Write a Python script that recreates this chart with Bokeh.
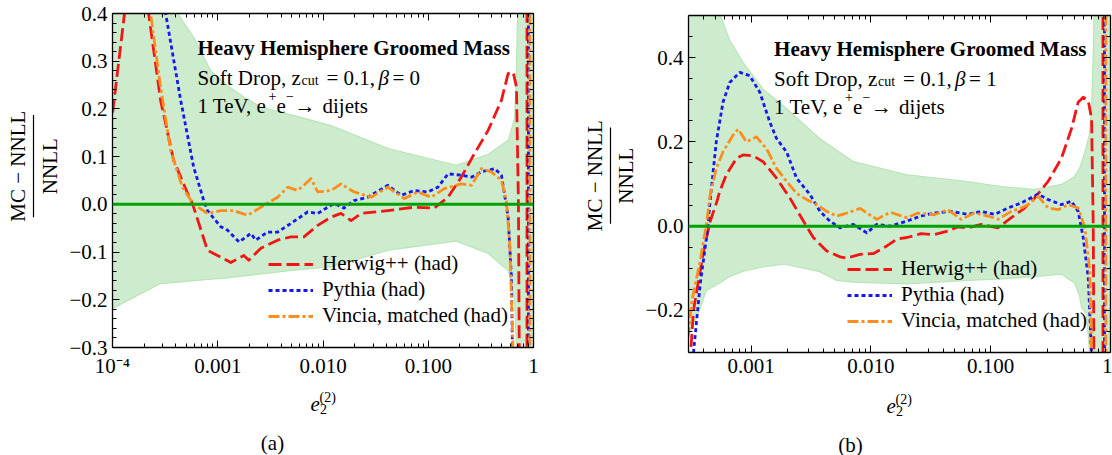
import numpy as np
from bokeh.core.properties import value
from bokeh.embed import file_html
from bokeh.layouts import column, row
from bokeh.models import (CustomJSTickFormatter, FixedTicker, Legend, LegendItem,
                          LinearAxis, LogAxis, Range1d, Span)
from bokeh.plotting import figure
from bokeh.resources import INLINE

SERIF = "Liberation Serif"
INK = "#000000"
RED = "#f01616"
BLUE = "#1717f2"
ORANGE = "#ff8d1e"
ZERO_GREEN = "#00a000"
BAND_FILL = "#cdeccd"
BAND_EDGE = "#b9e4b9"

SERIES_LABELS = ["Herwig++ (had)", "Pythia (had)", "Vincia, matched (had)"]

# ---------------- (a) Soft Drop, z_cut = 0.1, beta = 0 ----------------
# x values are stored as log10(e2), y values as (MC - NNLL)/NNLL
herwig_a_log_e2 = [-4.06, -4.0, -3.886, -3.848, -3.771, -3.686, -3.657, -3.543, -3.419, -3.286,
                   -3.238, -3.098, -3.003, -2.876, -2.752, -2.705, -2.59, -2.431, -2.305, -2.181,
                   -2.05, -1.924, -1.829, -1.733, -1.638, -1.384, -1.133, -0.943, -0.812, -0.686,
                   -0.562, -0.431, -0.305, -0.241, -0.193, -0.162, -0.143, -0.133, -0.062, -0.062]
herwig_a = [0.08, 0.19, 0.40, 0.50, 0.62, 0.50, 0.40, 0.218, 0.092, 0.023,
            0.0, -0.096, -0.107, -0.122, -0.107, -0.117, -0.092, -0.075, -0.068, -0.068,
            -0.044, -0.027, -0.019, -0.034, -0.019, -0.013, -0.006, -0.008, 0.015, 0.057,
            0.106, 0.155, 0.218, 0.274, 0.277, 0.246, 0.0, -0.40, -0.40, 0.60]

pythia_a_log_e2 = [-4.06, -3.7, -3.56, -3.495, -3.352, -3.229, -3.133, -3.098, -2.971, -2.908,
                   -2.797, -2.686, -2.638, -2.527, -2.431, -2.305, -2.146, -2.05, -1.955, -1.895,
                   -1.8, -1.705, -1.574, -1.384, -1.257, -1.133, -1.003, -0.908, -0.812, -0.686,
                   -0.59, -0.495, -0.368, -0.305, -0.276, -0.241, -0.21, -0.194, -0.048, -0.048]
pythia_a = [0.9, 0.7, 0.5, 0.40, 0.218, 0.078, 0.008, -0.013, -0.047, -0.054,
            -0.079, -0.061, -0.075, -0.058, -0.058, -0.04, -0.016, -0.019, -0.006, 0.002,
            -0.008, 0.008, 0.015, 0.04, 0.019, 0.029, 0.026, 0.036, 0.064, 0.061,
            0.057, 0.068, 0.075, 0.061, 0.022, -0.027, -0.152, -0.40, -0.40, 0.60]

vincia_a_log_e2 = [-4.06, -3.75, -3.638, -3.543, -3.448, -3.336, -3.229, -3.098, -2.971, -2.848,
                   -2.717, -2.59, -2.431, -2.336, -2.241, -2.181, -2.114, -2.05, -1.924, -1.829,
                   -1.705, -1.543, -1.384, -1.229, -1.098, -0.971, -0.848, -0.686, -0.59, -0.495,
                   -0.4, -0.305, -0.257, -0.226, -0.181, -0.034, -0.034]
vincia_a = [0.8, 0.6, 0.40, 0.246, 0.113, 0.036, 0.0, -0.019, -0.013, -0.013,
            -0.023, -0.006, 0.015, 0.036, 0.029, 0.04, 0.054, 0.026, 0.029, 0.043,
            0.026, 0.015, 0.036, 0.012, 0.026, 0.015, 0.033, 0.043, 0.04, 0.075,
            0.068, 0.05, 0.008, -0.082, -0.40, -0.40, 0.60]

band_a_log_e2 = [-4.06, -3.543, -3.381, -3.229, -3.067, -2.908, -2.752, -2.59, -2.276, -1.924,
                 -1.38, -0.733, -0.43, -0.238, -0.18, -0.165, -0.145, -0.12, 0.02]
band_a_hi = [0.80, 0.52, 0.40, 0.35, 0.28, 0.249, 0.225, 0.204, 0.186, 0.165,
             0.117, 0.082, 0.105, 0.135, 0.18, 0.26, 0.45, 0.80, 0.80]
band_a_lo = [-0.225, -0.166, -0.163, -0.160, -0.157, -0.154, -0.150, -0.146, -0.138, -0.131,
             -0.096, -0.077, -0.103, -0.14, -0.20, -0.28, -0.45, -0.80, -0.80]

# ---------------- (b) Soft Drop, z_cut = 0.1, beta = 1 ----------------
herwig_b_log_e2 = [-3.53, -3.505, -3.481, -3.397, -3.341, -3.285, -3.263, -3.207, -3.123, -3.067,
                   -2.983, -2.9, -2.788, -2.677, -2.564, -2.481, -2.369, -2.258, -2.202, -2.09,
                   -1.978, -1.867, -1.783, -1.699, -1.582, -1.473, -1.358, -1.275, -1.191, -1.079,
                   -0.94, -0.828, -0.717, -0.633, -0.521, -0.41, -0.326, -0.27, -0.228, -0.186,
                   -0.158, -0.144, -0.137, -0.063, -0.063]
herwig_b = [-0.5, -0.3, -0.2, -0.059, 0.012, 0.059, 0.082, 0.122, 0.161, 0.169,
            0.167, 0.153, 0.114, 0.067, 0.012, -0.027, -0.059, -0.073, -0.076, -0.067,
            -0.065, -0.047, -0.031, -0.027, -0.018, -0.02, -0.012, -0.002, -0.004, 0.004,
            -0.004, 0.02, 0.043, 0.067, 0.106, 0.161, 0.231, 0.294, 0.306, 0.298,
            0.255, 0.0, -0.40, -0.40, 0.60]

pythia_b_log_e2 = [-3.53, -3.481, -3.425, -3.369, -3.342, -3.317, -3.291, -3.235, -3.179, -3.095,
                   -3.012, -2.928, -2.844, -2.788, -2.704, -2.621, -2.509, -2.425, -2.342, -2.258,
                   -2.146, -2.034, -1.951, -1.839, -1.699, -1.582, -1.473, -1.331, -1.191, -1.079,
                   -0.968, -0.856, -0.745, -0.605, -0.521, -0.41, -0.326, -0.27, -0.228, -0.186,
                   -0.144, -0.05, -0.05]
pythia_b = [-0.5, -0.3, -0.137, -0.02, 0.06, 0.13, 0.2, 0.294, 0.341, 0.365,
            0.357, 0.318, 0.247, 0.208, 0.176, 0.114, 0.075, 0.035, 0.012, -0.004,
            0.004, -0.016, 0.004, 0.0, 0.012, 0.024, 0.031, 0.035, 0.028, 0.035,
            0.028, 0.043, 0.055, 0.076, 0.063, 0.051, 0.059, 0.035, -0.027, -0.122,
            -0.40, -0.40, 0.60]

vincia_b_log_e2 = [-3.56, -3.494, -3.425, -3.369, -3.347, -3.291, -3.235, -3.151, -3.109, -3.039,
                   -2.956, -2.872, -2.788, -2.704, -2.621, -2.537, -2.453, -2.369, -2.286, -2.202,
                   -2.09, -1.951, -1.839, -1.699, -1.61, -1.471, -1.358, -1.247, -1.136, -1.023,
                   -0.94, -0.828, -0.745, -0.688, -0.605, -0.521, -0.437, -0.353, -0.27, -0.214,
                   -0.173, -0.15, -0.038, -0.038]
vincia_b = [-0.36, -0.176, -0.082, 0.012, 0.067, 0.137, 0.176, 0.216, 0.23, 0.2,
            0.212, 0.184, 0.137, 0.106, 0.078, 0.063, 0.051, 0.035, 0.024, 0.031,
            0.042, 0.016, 0.033, 0.02, 0.031, 0.027, 0.039, 0.016, 0.031, 0.024,
            0.016, 0.035, 0.043, 0.051, 0.071, 0.043, 0.039, 0.051, 0.043, -0.004,
            -0.106, -0.40, -0.40, 0.60]

band_b_log_e2 = [-3.56, -3.452, -3.374, -3.263, -3.182, -3.067, -2.9, -2.729, -2.428, -2.286,
                 -2.146, -1.699, -1.191, -0.912, -0.636, -0.41, -0.3, -0.259, -0.242, -0.2,
                 -0.175, -0.158, -0.14, -0.125, 0.02]
band_b_hi = [0.80, 0.70, 0.60, 0.506, 0.443, 0.388, 0.325, 0.285, 0.208, 0.18,
             0.153, 0.122, 0.106, 0.094, 0.087, 0.099, 0.118, 0.137, 0.15, 0.19,
             0.22, 0.28, 0.45, 0.80, 0.80]
band_b_lo = [-0.28, -0.216, -0.153, -0.135, -0.12, -0.107, -0.097, -0.09, -0.108, -0.129,
             -0.133, -0.137, -0.129, -0.125, -0.12, -0.114, -0.135, -0.165, -0.192, -0.21,
             -0.30, -0.45, -0.80, -0.80, -0.80]

# axis ticks and their labels
x_ticks_a = [1e-4, 1e-3, 1e-2, 1e-1, 1.0]
x_labels_a = ["10⁻⁴", "0.001", "0.010", "0.100", "1"]
x_ticks_b = [1e-3, 1e-2, 1e-1, 1.0]
x_labels_b = ["0.001", "0.010", "0.100", "1"]
y_ticks_a = [-0.3, -0.2, -0.1, 0.0, 0.1, 0.2, 0.3, 0.4]
y_labels_a = ["−0.3", "−0.2", "−0.1", "0.0", "0.1", "0.2", "0.3", "0.4"]
y_ticks_b = [-0.2, 0.0, 0.2, 0.4]
y_labels_b = ["−0.2", "0.0", "0.2", "0.4"]

# plot frames in page pixels (left, right, top, bottom) and their data extents
FRAME_A = dict(left=112, right=533, top=13, bottom=347, lx=(-4.0, 0.0), y=(-0.3, 0.4))
FRAME_B = dict(left=688, right=1110, top=15, bottom=352, lx=(float(np.log10(3e-4)), 0.0), y=(-0.3, 0.5))
MAIN_H = 385
PAGE_H = 455


def page_to_data(fr, px, py):
    lx0, lx1 = fr["lx"]
    y0, y1 = fr["y"]
    lx = lx0 + (px - fr["left"]) / (fr["right"] - fr["left"]) * (lx1 - lx0)
    yv = y1 - (py - fr["top"]) / (fr["bottom"] - fr["top"]) * (y1 - y0)
    return 10 ** lx, yv


def log_minor(d0, d1, lo):
    return [m * 10.0 ** d for d in range(d0, d1) for m in range(2, 10) if m * 10.0 ** d >= lo]


def lookup_formatter(vals, labels):
    return CustomJSTickFormatter(args=dict(vals=vals, labels=labels), code="""
        for (let i = 0; i < vals.length; i++) {
            if (Math.abs(vals[i] - tick) <= 1e-6 * Math.abs(vals[i]) + 1e-12) { return labels[i]; }
        }
        return "";
    """)


def style_axis(ax, ticks, minor, labels=None, standoff=5):
    ax.ticker = FixedTicker(ticks=ticks, minor_ticks=minor)
    ax.axis_line_color = INK
    ax.axis_line_width = 1.3
    ax.major_tick_in = 7
    ax.major_tick_out = 0
    ax.minor_tick_in = 4
    ax.minor_tick_out = 0
    ax.major_tick_line_color = INK
    ax.minor_tick_line_color = INK
    ax.major_tick_line_width = 1
    ax.minor_tick_line_width = 1
    if labels is None:
        ax.formatter = CustomJSTickFormatter(code="return '';")
        ax.major_label_text_font_size = "0px"
        ax.major_label_standoff = 0
    else:
        ax.formatter = lookup_formatter(ticks, labels)
        ax.major_label_text_font = SERIF
        ax.major_label_text_font_size = "21px"
        ax.major_label_text_color = INK
        ax.major_label_standoff = standoff


def put_text(fig, x, y, text, size="21px", style="normal", align="left",
             baseline="alphabetic", angle=0.0):
    fig.text(x=[x], y=[y], text=[text], text_font=value(SERIF), text_font_size=size,
             text_font_style=style, text_align=align, text_baseline=baseline,
             angle=angle, text_color=INK)


def helper_fig(width, height, x0, x1, y_top, y_bottom):
    f = figure(width=width, height=height, x_range=Range1d(x0, x1),
               y_range=Range1d(y_bottom, y_top), min_border=0, toolbar_location=None,
               output_backend="svg", x_axis_location=None, y_axis_location=None,
               outline_line_color=None, background_fill_color="white",
               border_fill_color="white")
    f.grid.visible = False
    return f


def panel(fr, width, borders, curves, band, x_ticks, x_labels, x_minor,
          y_ticks, y_labels, y_minor, beta, title_x, title_base, legend_loc):
    bl, br, bt, bb = borders
    p = figure(width=width, height=MAIN_H, x_axis_type="log",
               x_range=Range1d(10 ** fr["lx"][0], 10 ** fr["lx"][1]),
               y_range=Range1d(*fr["y"]),
               min_border_left=bl, min_border_right=br, min_border_top=bt, min_border_bottom=bb,
               toolbar_location=None, output_backend="svg", outline_line_color=None,
               background_fill_color="white", border_fill_color="white")
    p.grid.visible = False

    style_axis(p.xaxis[0], x_ticks, x_minor, x_labels, standoff=6)
    style_axis(p.yaxis[0], y_ticks, y_minor, y_labels, standoff=5)
    top = LogAxis()
    style_axis(top, x_ticks, x_minor)
    p.add_layout(top, "above")
    right = LinearAxis()
    style_axis(right, y_ticks, y_minor)
    p.add_layout(right, "right")

    # NNLL uncertainty band
    b_lx, b_hi, b_lo = band
    bx = 10 ** np.array(b_lx)
    p.varea(x=bx, y1=b_lo, y2=b_hi, fill_color=BAND_FILL)
    p.line(bx, b_hi, line_color=BAND_EDGE, line_width=1.2)
    p.line(bx, b_lo, line_color=BAND_EDGE, line_width=1.2)

    # Monte Carlo ratio curves
    styles = [(RED, "13 5"), (BLUE, "4 3"), (ORANGE, "11 3 3 3")]
    renderers = []
    for (lx, vals), (color, dash) in zip(curves, styles):
        r = p.line(10 ** np.array(lx), vals, line_color=color, line_width=2.8,
                   line_dash=dash, line_join="round")
        renderers.append(r)

    p.add_layout(Span(location=0, dimension="width", line_color=ZERO_GREEN, line_width=3))

    legend = Legend(items=[LegendItem(label=lab, renderers=[r])
                           for lab, r in zip(SERIES_LABELS, renderers)],
                    location=legend_loc, glyph_width=45, glyph_height=20, label_height=20,
                    spacing=1, padding=0, margin=0, label_standoff=9,
                    background_fill_alpha=0, border_line_color=None,
                    label_text_font=SERIF, label_text_font_size="21px",
                    label_text_color=INK)
    p.add_layout(legend)

    # in-frame heading
    pieces = [
        (0, 0, "Heavy Hemisphere Groomed Mass", "21px", "bold"),
        (0, 30, "Soft Drop, z", "21px", "normal"),
        (104, 33, "cut", "14px", "normal"),
        (129, 30, "= 0.1,", "21px", "normal"),
        (181, 30, "β", "21px", "italic"),
        (195, 30, "= " + beta, "21px", "normal"),
        (0, 58, "1 TeV, e", "21px", "normal"),
        (71, 48, "+", "14px", "normal"),
        (79, 58, "e", "21px", "normal"),
        (88.5, 48, "−", "14px", "normal"),
        (97, 58, "→", "21px", "normal"),
        (125, 58, "dijets", "21px", "normal"),
    ]
    for dx, dy, txt, size, style in pieces:
        x, y = page_to_data(fr, title_x + dx, title_base + dy)
        put_text(p, x, y, txt, size=size, style=style)
    return p


main_a = panel(FRAME_A, 494, (50, 23, 13, MAIN_H - 347),
               [(herwig_a_log_e2, herwig_a), (pythia_a_log_e2, pythia_a),
                (vincia_a_log_e2, vincia_a)],
               (band_a_log_e2, band_a_hi, band_a_lo),
               x_ticks_a, x_labels_a, log_minor(-4, 0, 1e-4),
               y_ticks_a, y_labels_a, [round(-0.3 + 0.02 * k, 2) for k in range(36)],
               "0", 197, 47, (156, 19))

main_b = panel(FRAME_B, 474, (50, 2, 15, MAIN_H - 352),
               [(herwig_b_log_e2, herwig_b), (pythia_b_log_e2, pythia_b),
                (vincia_b_log_e2, vincia_b)],
               (band_b_log_e2, band_b_hi, band_b_lo),
               x_ticks_b, x_labels_b, log_minor(-4, 0, 3e-4),
               y_ticks_b, y_labels_b, [round(-0.3 + 0.05 * k, 2) for k in range(17)],
               "1", 773.6, 48, (159, 19))

# vertical fraction labels of the ratio axis
ylab_a = helper_fig(62, MAIN_H, 0, 62, 0, MAIN_H)
put_text(ylab_a, 17, 176, "MC − NNLL", align="center", baseline="middle", angle=np.pi / 2)
ylab_a.line([33, 33], [117, 235], line_color=INK, line_width=1.2)
put_text(ylab_a, 49, 176, "NNLL", align="center", baseline="middle", angle=np.pi / 2)

ylab_b = helper_fig(82, MAIN_H, 556, 638, 0, MAIN_H)
put_text(ylab_b, 594.5, 183, "MC − NNLL", align="center", baseline="middle", angle=np.pi / 2)
ylab_b.line([610, 610], [128, 238], line_color=INK, line_width=1.2)
put_text(ylab_b, 625, 183, "NNLL", align="center", baseline="middle", angle=np.pi / 2)

# x-axis titles and sub-figure captions
bottom_a = helper_fig(556, PAGE_H - MAIN_H, 0, 556, MAIN_H, PAGE_H)
put_text(bottom_a, 310, 403, "e", style="italic")
put_text(bottom_a, 319.5, 408.5, "2", size="14px")
put_text(bottom_a, 319, 397, "(2)", size="14px")
put_text(bottom_a, 272, 442, "(a)", align="center")

bottom_b = helper_fig(556, PAGE_H - MAIN_H, 556, 1112, MAIN_H, PAGE_H)
put_text(bottom_b, 886, 405, "e", style="italic")
put_text(bottom_b, 895.5, 410.5, "2", size="14px")
put_text(bottom_b, 895, 399, "(2)", size="14px")
put_text(bottom_b, 850, 444, "(b)", align="center")

layout = row(column(row(ylab_a, main_a), bottom_a),
             column(row(ylab_b, main_b), bottom_b))

open("out.html", "w").write(file_html(layout, INLINE, title="Heavy hemisphere groomed mass"))
